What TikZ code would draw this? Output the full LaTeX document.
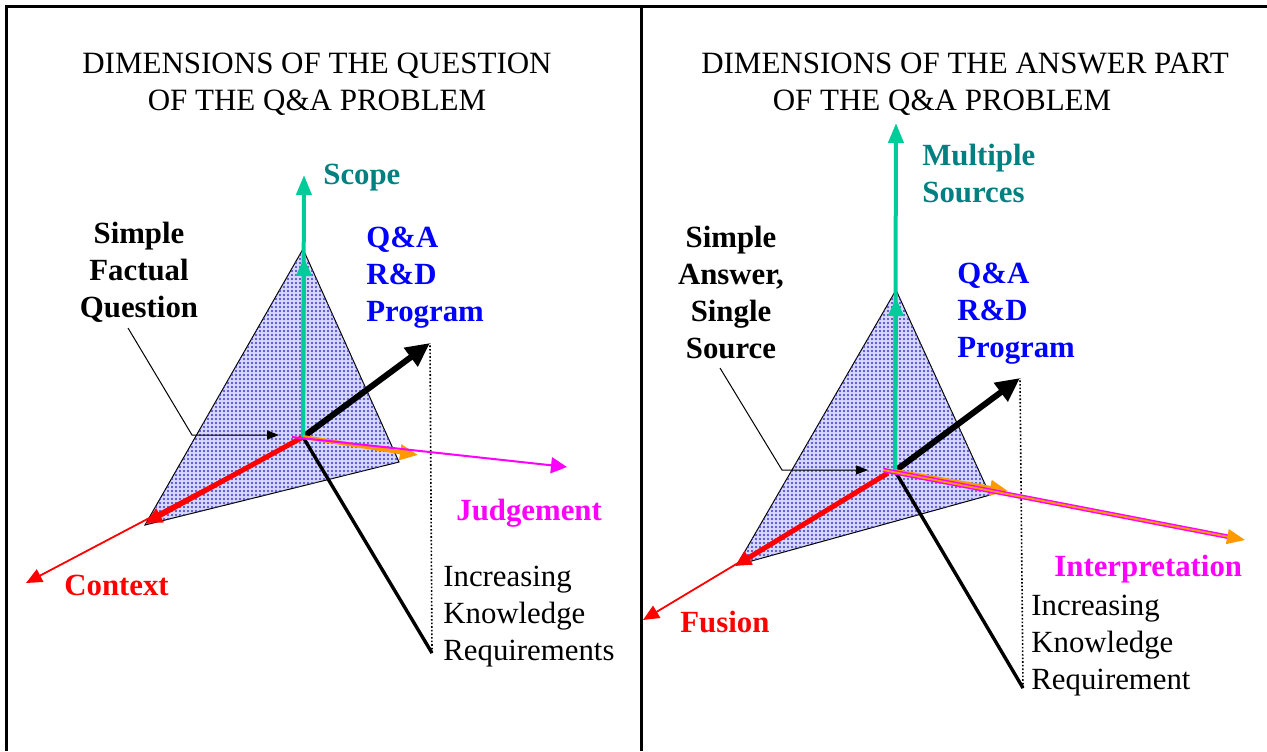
\documentclass[tikz,border=0pt]{standalone}
\usepackage{fontspec}
\setmainfont{Liberation Serif}
\usetikzlibrary{arrows.meta,patterns}
\definecolor{sgreen}{RGB}{0,204,153}
\definecolor{steal}{RGB}{0,128,128}
\definecolor{sorange}{RGB}{255,153,0}
\definecolor{smag}{RGB}{255,0,255}
\definecolor{sred}{RGB}{255,0,0}
\definecolor{sblue}{RGB}{0,0,255}
\definecolor{trifill}{RGB}{214,214,248}
\definecolor{dotc}{RGB}{55,55,210}
\pgfdeclarepatternformonly{densedots}{\pgfqpoint{-0.6pt}{-0.6pt}}{\pgfqpoint{0.6pt}{0.6pt}}{\pgfqpoint{2pt}{2pt}}{\pgfpathcircle{\pgfqpoint{0pt}{0pt}}{0.55pt}\pgfusepath{fill}}
\begin{document}
\begin{tikzpicture}[x=0.5pt,y=-0.5pt,
  txt/.style={inner sep=0pt, font=\fontsize{15.4}{18.35}\selectfont},
  btxt/.style={inner sep=0pt, font=\fontsize{15.4}{18.35}\selectfont\bfseries},
  ttl/.style={inner sep=0pt, font=\fontsize{15.5}{17.5}\selectfont},
  frameline/.style={line width=1.5pt},
  tribox/.style={draw=black, line width=0.5pt, fill=trifill, postaction={pattern=densedots, pattern color=dotc}},
  garrow/.style={draw=sgreen, line width=2pt, -{Triangle[length=10pt,width=7.5pt]}},
  ghead/.style={draw=sgreen, line width=2pt, -{Triangle[length=9pt,width=7.5pt]}},
  karrow/.style={draw=black, line width=3pt, -{Triangle[length=12pt,width=11pt]}},
  kline/.style={draw=black, line width=1.7pt},
  dline/.style={draw=black, line width=0.8pt, densely dotted},
  rarrow/.style={draw=sred, line width=2.5pt, -{Triangle[length=8pt,width=7.5pt]}},
  rthin/.style={draw=sred, line width=0.9pt, -{Triangle[length=8pt,width=7pt]}},
  oarrow/.style={draw=sorange, line width=2pt, -{Triangle[length=9pt,width=7.5pt]}},
  marrow/.style={draw=smag, line width=1pt, -{Triangle[length=8pt,width=8pt]}},
  mdouble/.style={draw=smag, line width=0.7pt, double=sorange, double distance=0.9pt, -{Triangle[length=9pt,width=7.5pt,fill=sorange,color=sorange]}},
  pointer/.style={draw=black, line width=0.5pt, -{Triangle[length=6pt,width=4.5pt]}}
]
\useasboundingbox (0,0) rectangle (1267,751);

% frame
\draw[frameline] (6,751) -- (6,6) -- (1267,6);
\draw[frameline] (641,6) -- (641,751);

% ---------- left panel ----------
\coordinate (c1) at (303,437);
\coordinate (a1) at (303,249);
\coordinate (l1) at (145,525);
\coordinate (r1) at (399,462);
\coordinate (gtop1) at (304,175);
\coordinate (ghd1) at (304,258);
\coordinate (rtip1) at (26,583);
\coordinate (rvt1) at (146,523);
\coordinate (mst1) at (292,437);
\coordinate (mtip1) at (567,467);
\coordinate (otip1) at (418,455);
\coordinate (ktip1) at (430,343);
\coordinate (kbot1) at (432,653);
\coordinate (ptr1) at (128,328);
\coordinate (pb1) at (192,435);
\coordinate (pt1) at (279,435);

\path[tribox] (a1) -- (r1) -- (l1) -- cycle;
\draw[pointer] (ptr1) -- (pb1) -- (pt1);
\draw[kline] (c1) -- (kbot1);
\draw[dline] (kbot1) -- (ktip1);
\draw[karrow] (c1) -- (ktip1);
\draw[rthin] (c1) -- (rtip1);
\draw[rarrow] (c1) -- (rvt1);
\draw[garrow] (c1) -- (gtop1);
\draw[ghead] (c1) -- (ghd1);
\draw[oarrow] (c1) -- (otip1);
\draw[marrow] (mst1) -- (mtip1);

\node[ttl, anchor=base] (t1a) at (317,73) {DIMENSIONS OF THE QUESTION};
\node[ttl, anchor=base] (t1b) at (317,110) {OF THE Q\&A PROBLEM};
\node[btxt, anchor=base west, text=steal] (scope) at (323,184) {Scope};
\node[btxt, anchor=base, align=center] (sfq) at (139,317) {Simple\\Factual\\Question};
\node[btxt, anchor=base west, align=left, text=sblue] (qa1) at (366,321) {Q\&A\\R\&D\\Program};
\node[btxt, anchor=base west, text=smag] (judg) at (456,520) {Judgement};
\node[btxt, anchor=base west, text=sred] (ctx) at (64,595) {Context};
\node[txt, anchor=base west, align=left] (ikr1) at (443,660) {Increasing\\Knowledge\\Requirements};

% ---------- right panel ----------
\coordinate (c2) at (895,471);
\coordinate (a2) at (896,290);
\coordinate (l2) at (737,565);
\coordinate (r2) at (990,495);
\coordinate (gtop2) at (896,123);
\coordinate (ghd2) at (896,298);
\coordinate (rst2) at (888,473);
\coordinate (rtip2) at (643,620);
\coordinate (rvt2) at (735,566);
\coordinate (mst2) at (883,470);
\coordinate (mtip2) at (1245,540);
\coordinate (otip2) at (1008,491);
\coordinate (ktip2) at (1020,378);
\coordinate (kbot2) at (1023,688);
\coordinate (ptr2) at (720,368);
\coordinate (pb2) at (782,470);
\coordinate (pt2) at (868,470);

\path[tribox] (a2) -- (r2) -- (l2) -- cycle;
\draw[pointer] (ptr2) -- (pb2) -- (pt2);
\draw[kline] (c2) -- (kbot2);
\draw[dline] (kbot2) -- (ktip2);
\draw[karrow] (c2) -- (ktip2);
\draw[rthin] (rst2) -- (rtip2);
\draw[rarrow] (rst2) -- (rvt2);
\draw[garrow] (c2) -- (gtop2);
\draw[ghead] (c2) -- (ghd2);
\draw[oarrow] (c2) -- (otip2);
\draw[mdouble] (mst2) -- (mtip2);

\node[ttl, anchor=base] (t2a) at (965,73) {DIMENSIONS OF THE ANSWER PART};
\node[ttl, anchor=base] (t2b) at (942,110) {OF THE Q\&A PROBLEM};
\node[btxt, anchor=base west, align=left, text=steal] (msrc) at (922,202) {Multiple\\Sources};
\node[btxt, anchor=base, align=center] (sass) at (731,358) {Simple\\Answer,\\Single\\Source};
\node[btxt, anchor=base west, align=left, text=sblue] (qa2) at (957,357) {Q\&A\\R\&D\\Program};
\node[btxt, anchor=base west, text=smag] (interp) at (1054,576) {Interpretation};
\node[btxt, anchor=base west, text=sred] (fus) at (680,632) {Fusion};
\node[txt, anchor=base west, align=left] (ikr2) at (1031,689) {Increasing\\Knowledge\\Requirement};
\end{tikzpicture}
\end{document}
